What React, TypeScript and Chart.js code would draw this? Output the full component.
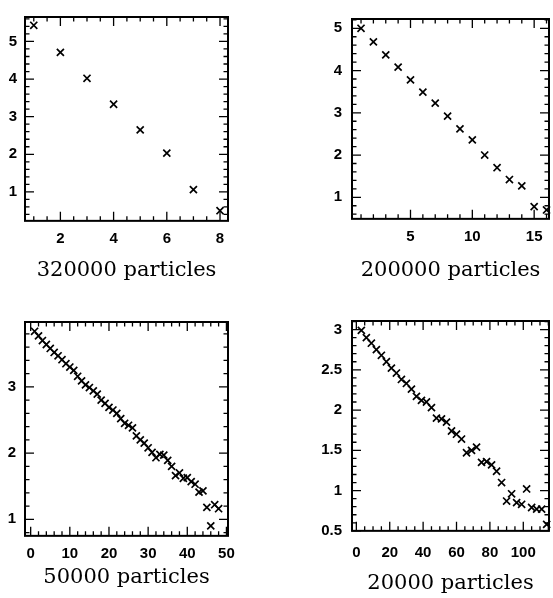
import React, { useEffect, useRef } from "react";
import { Chart, registerables } from "chart.js";

Chart.register(...registerables);

// ---------- data ----------
const p1Title = "320000 particles";
const p1X = [1, 2, 3, 4, 5, 6, 7, 8];
const p1Y = [5.43, 4.71, 4.02, 3.33, 2.65, 2.03, 1.06, 0.5];
const p1XTicks = [2, 4, 6, 8];
const p1YTicks = [1, 2, 3, 4, 5];

const p2Title = "200000 particles";
const p2X = [1, 2, 3, 4, 5, 6, 7, 8, 9, 10, 11, 12, 13, 14, 15, 16];
const p2Y = [5.0, 4.68, 4.37, 4.08, 3.78, 3.49, 3.23, 2.92, 2.62, 2.36, 2.0, 1.7, 1.42, 1.27, 0.78, 0.7];
const p2XTicks = [5, 10, 15];
const p2YTicks = [1, 2, 3, 4, 5];

const p3Title = "50000 particles";
const p3X = [
  1, 2, 3, 4, 5, 6, 7, 8, 9, 10, 11, 12, 13, 14, 15, 16, 17, 18, 19, 20, 21, 22, 23, 24,
  25, 26, 27, 28, 29, 30, 31, 32, 33, 34, 35, 36, 37, 38, 39, 40, 41, 42, 43, 44, 45, 46, 47, 48,
];
const p3Y = [
  3.84, 3.77, 3.7, 3.64, 3.58, 3.52, 3.47, 3.41, 3.35, 3.3, 3.25, 3.16, 3.09, 3.03, 2.99, 2.94,
  2.89, 2.8, 2.75, 2.69, 2.65, 2.6, 2.52, 2.45, 2.42, 2.38, 2.26, 2.2, 2.15, 2.08, 2.01, 1.93,
  1.98, 1.97, 1.89, 1.8, 1.66, 1.7, 1.62, 1.63, 1.57, 1.53, 1.41, 1.43, 1.18, 0.9, 1.22, 1.16,
];
const p3XTicks = [0, 10, 20, 30, 40, 50];
const p3YTicks = [1, 2, 3];

const p4Title = "20000 particles";
const p4X = [
  3, 6, 9, 12, 15, 18, 21, 24, 27, 30, 33, 36, 39, 42, 45, 48, 51, 54, 57, 60, 63, 66, 69, 72,
  75, 78, 81, 84, 87, 90, 93, 96, 99, 102, 105, 108, 111, 114,
];
const p4Y = [
  2.99, 2.9, 2.83, 2.75, 2.68, 2.6, 2.52, 2.46, 2.38, 2.33, 2.26, 2.17, 2.12, 2.1, 2.03, 1.9,
  1.89, 1.85, 1.74, 1.7, 1.64, 1.47, 1.5, 1.54, 1.35, 1.36, 1.32, 1.24, 1.1, 0.87, 0.96, 0.85,
  0.83, 1.02, 0.79, 0.77, 0.77, 0.58,
];
const p4XTicks = [0, 20, 40, 60, 80, 100];
const p4YTicks = [0.5, 1, 1.5, 2, 2.5, 3];

// ---------- panel layout ----------
type Panel = {
  title: string;
  xs: number[];
  ys: number[];
  xTicks: number[];
  yTicks: number[];
  xMinorStep: number;
  yMinorStep: number;
  xMin: number;
  xMax: number;
  yMin: number;
  yMax: number;
  left: number;
  top: number;
  width: number;
  height: number;
  yAxisWidth: number;
  rightSpace: number;
  padTop: number;
  xLabelPad: number;
  yLabelPad: number;
  titlePadTop: number;
  titlePadBottom: number;
};

const panels: Panel[] = [
  {
    title: p1Title, xs: p1X, ys: p1Y, xTicks: p1XTicks, yTicks: p1YTicks,
    xMinorStep: 0.5, yMinorStep: 0.2, xMin: 0.67, xMax: 8.3, yMin: 0.23, yMax: 5.65,
    left: 0, top: 0, width: 253, height: 290, yAxisWidth: 25, rightSpace: 25, padTop: 7,
    xLabelPad: 9, yLabelPad: 8, titlePadTop: 10, titlePadBottom: 7,
  },
  {
    title: p2Title, xs: p2X, ys: p2Y, xTicks: p2XTicks, yTicks: p2YTicks,
    xMinorStep: 1, yMinorStep: 0.2, xMin: 0.27, xMax: 16.2, yMin: 0.49, yMax: 5.22,
    left: 300, top: 0, width: 301, height: 290, yAxisWidth: 52, rightSpace: 52, padTop: 5,
    xLabelPad: 9, yLabelPad: 10, titlePadTop: 12, titlePadBottom: 7,
  },
  {
    title: p3Title, xs: p3X, ys: p3Y, xTicks: p3XTicks, yTicks: p3YTicks,
    xMinorStep: 2, yMinorStep: 0.2, xMin: -1.45, xMax: 50.4, yMin: 0.75, yMax: 3.98,
    left: 0, top: 300, width: 253, height: 298, yAxisWidth: 25, rightSpace: 25, padTop: 22,
    xLabelPad: 9, yLabelPad: 9, titlePadTop: 2, titlePadBottom: 8,
  },
  {
    title: p4Title, xs: p4X, ys: p4Y, xTicks: p4XTicks, yTicks: p4YTicks,
    xMinorStep: 5, yMinorStep: 0.1, xMin: -2.6, xMax: 115.4, yMin: 0.5, yMax: 3.106,
    left: 300, top: 300, width: 301, height: 298, yAxisWidth: 52, rightSpace: 52, padTop: 21,
    xLabelPad: 13, yLabelPad: 10, titlePadTop: 13, titlePadBottom: 2,
  },
];

const tickFont = { family: "'Liberation Sans', Arial, sans-serif", size: 15, weight: "bold" as const, lineHeight: 1.2 };
const titleFont = { family: "'DejaVu Serif', serif", size: 21, weight: "normal" as const, lineHeight: 1.15 };

function minorValues(min: number, max: number, step: number, majors: number[]) {
  const out: number[] = [];
  const start = Math.ceil(min / step - 1e-9);
  const end = Math.floor(max / step + 1e-9);
  for (let k = start; k <= end; k++) {
    const v = Math.round(k * step * 1000) / 1000;
    if (!majors.some((m) => Math.abs(m - v) < 1e-6)) out.push(v);
  }
  return out;
}

const frameTicksPlugin = {
  id: "frameTicks",
  afterDatasetsDraw(chart: any, _args: any, opts: any) {
    const { ctx, chartArea: a } = chart;
    const xs = chart.scales.x;
    const ys = chart.scales.y;
    const p: Panel = opts.panel;
    const majorLen = 9;
    const minorLen = 4.5;
    ctx.save();
    ctx.strokeStyle = "#000";
    ctx.lineWidth = 1.3;
    ctx.beginPath();
    const xTick = (v: number, len: number) => {
      const px = xs.getPixelForValue(v);
      ctx.moveTo(px, a.bottom);
      ctx.lineTo(px, a.bottom - len);
      ctx.moveTo(px, a.top);
      ctx.lineTo(px, a.top + len);
    };
    const yTick = (v: number, len: number) => {
      const py = ys.getPixelForValue(v);
      ctx.moveTo(a.left, py);
      ctx.lineTo(a.left + len, py);
      ctx.moveTo(a.right, py);
      ctx.lineTo(a.right - len, py);
    };
    p.xTicks.forEach((v) => xTick(v, majorLen));
    p.yTicks.forEach((v) => yTick(v, majorLen));
    minorValues(p.xMin, p.xMax, p.xMinorStep, p.xTicks).forEach((v) => xTick(v, minorLen));
    minorValues(p.yMin, p.yMax, p.yMinorStep, p.yTicks).forEach((v) => yTick(v, minorLen));
    ctx.stroke();
    ctx.lineWidth = 2;
    ctx.strokeRect(a.left, a.top, a.right - a.left, a.bottom - a.top);
    ctx.restore();
  },
};

function PanelChart({ p }: { p: Panel }) {
  const ref = useRef<HTMLCanvasElement | null>(null);
  useEffect(() => {
    if (!ref.current) return;
    const chart = new Chart(ref.current, {
      type: "scatter",
      data: {
        datasets: [
          {
            data: p.xs.map((x, i) => ({ x, y: p.ys[i] })),
            xAxisID: "x",
            yAxisID: "y",
            pointStyle: "crossRot",
            pointRadius: 5,
            pointBorderWidth: 1.7,
            borderColor: "#000",
            backgroundColor: "#000",
            showLine: false,
            clip: false as any,
          },
        ],
      },
      options: {
        animation: false,
        responsive: false,
        layout: { padding: { top: p.padTop, right: 0, left: 0, bottom: 0 } },
        plugins: {
          legend: { display: false },
          tooltip: { enabled: false },
          title: {
            display: true,
            position: "bottom",
            text: p.title,
            color: "#000",
            font: titleFont,
            padding: { top: p.titlePadTop, bottom: p.titlePadBottom },
          },
          frameTicks: { panel: p },
        } as any,
        scales: {
          x: {
            type: "linear",
            position: "bottom",
            min: p.xMin,
            max: p.xMax,
            grid: { display: false, drawTicks: false },
            border: { display: false },
            ticks: {
              color: "#000",
              font: tickFont,
              padding: p.xLabelPad,
              maxRotation: 0,
              autoSkip: false,
              callback: (v: any) => String(v),
            },
            afterBuildTicks: (s: any) => {
              s.ticks = p.xTicks.map((v) => ({ value: v }));
            },
            afterFit: (s: any) => {
              s.height = 28;
            },
          },
          y: {
            type: "linear",
            position: "left",
            min: p.yMin,
            max: p.yMax,
            grid: { display: false, drawTicks: false },
            border: { display: false },
            ticks: {
              color: "#000",
              font: tickFont,
              padding: p.yLabelPad,
              autoSkip: false,
              callback: (v: any) => String(v),
            },
            afterBuildTicks: (s: any) => {
              s.ticks = p.yTicks.map((v) => ({ value: v }));
            },
            afterFit: (s: any) => {
              s.width = p.yAxisWidth;
            },
          },
          yr: {
            type: "linear",
            position: "right",
            min: p.yMin,
            max: p.yMax,
            grid: { display: false, drawTicks: false },
            border: { display: false },
            ticks: { display: false },
            afterFit: (s: any) => {
              s.width = p.rightSpace;
            },
          },
        },
      },
      plugins: [frameTicksPlugin],
    });
    return () => chart.destroy();
  }, [p]);
  return (
    <canvas
      ref={ref}
      width={p.width}
      height={p.height}
      style={{ position: "absolute", left: p.left, top: p.top, width: p.width, height: p.height }}
    />
  );
}

export default function App() {
  return (
    <div style={{ position: "absolute", left: 0, top: 0, width: 553, height: 598, background: "#fff", overflow: "hidden" }}>
      {panels.map((p, i) => (
        <PanelChart key={i} p={p} />
      ))}
    </div>
  );
}
